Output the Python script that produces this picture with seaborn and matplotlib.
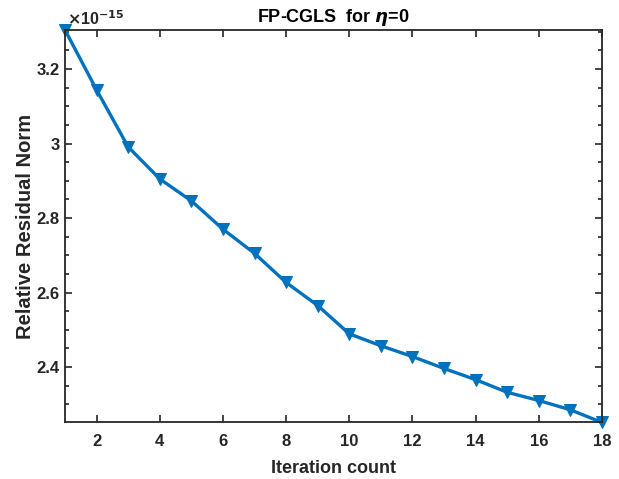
import matplotlib
matplotlib.use("Agg")
import matplotlib.pyplot as plt
import matplotlib.ticker as mticker
import numpy as np
import pandas as pd
import seaborn as sb

# data (values in units of 1e-15)
iterations = list(range(1, 19))
residual = [3.305, 3.144, 2.991, 2.905, 2.846, 2.770, 2.705, 2.627, 2.565,
            2.489, 2.457, 2.428, 2.396, 2.366, 2.332, 2.310, 2.285, 2.251]
ytick_vals = [2.4, 2.6, 2.8, 3.0, 3.2]
xtick_vals = [2, 4, 6, 8, 10, 12, 14, 16, 18]

sb.set_theme(style="ticks")
plt.rcParams["font.family"] = ["Liberation Sans", "DejaVu Sans"]
plt.rcParams["font.weight"] = "bold"
plt.rcParams["mathtext.fontset"] = "dejavusans"

df = pd.DataFrame({"it": iterations, "res": residual})

fig = plt.figure(figsize=(6.19, 4.79), dpi=100)
ax = fig.add_axes([0.105, 0.118, 0.8675, 0.8195])

sb.lineplot(data=df, x="it", y="res", ax=ax, color="#0072BD", linewidth=2.4,
            marker="v", markersize=8.5, markeredgecolor="#0072BD", clip_on=False)

ax.set_xlim(1, 18)
ax.set_ylim(min(residual), max(residual))

ax.set_xticks(xtick_vals)
ax.set_xticklabels([str(v) for v in xtick_vals])
ax.set_yticks(ytick_vals)
ax.set_yticklabels(["%g" % v for v in ytick_vals])
ax.yaxis.set_minor_locator(mticker.MultipleLocator(0.05))

for s in ax.spines.values():
    s.set_color("#262626")
    s.set_linewidth(1.3)
ax.tick_params(axis="both", which="both", direction="in", top=True, right=True,
               colors="#262626", labelsize=12, labelcolor="#262626")
ax.tick_params(axis="both", which="major", length=5, width=1.2)
ax.tick_params(axis="x", which="major", pad=8)
ax.tick_params(axis="y", which="major", pad=4)
ax.tick_params(axis="y", which="minor", length=3, width=1.2)
for lab in ax.get_xticklabels() + ax.get_yticklabels():
    lab.set_fontweight("bold")

ax.set_xlabel("Iteration count", fontsize=13, fontweight="bold", color="#262626", labelpad=8)
ax.set_ylabel("Relative Residual Norm", fontsize=14.5, fontweight="bold", color="#262626", labelpad=1)
ax.set_title("FP-CGLS  for $\\eta$=0", fontsize=13, fontweight="bold", color="black", pad=6)
ax.text(0.004, 1.005, "$\\times$10$^{-15}$", transform=ax.transAxes, fontsize=11.5,
        fontweight="bold", color="#262626", ha="left", va="bottom")

fig.savefig("out.png", dpi=100)
